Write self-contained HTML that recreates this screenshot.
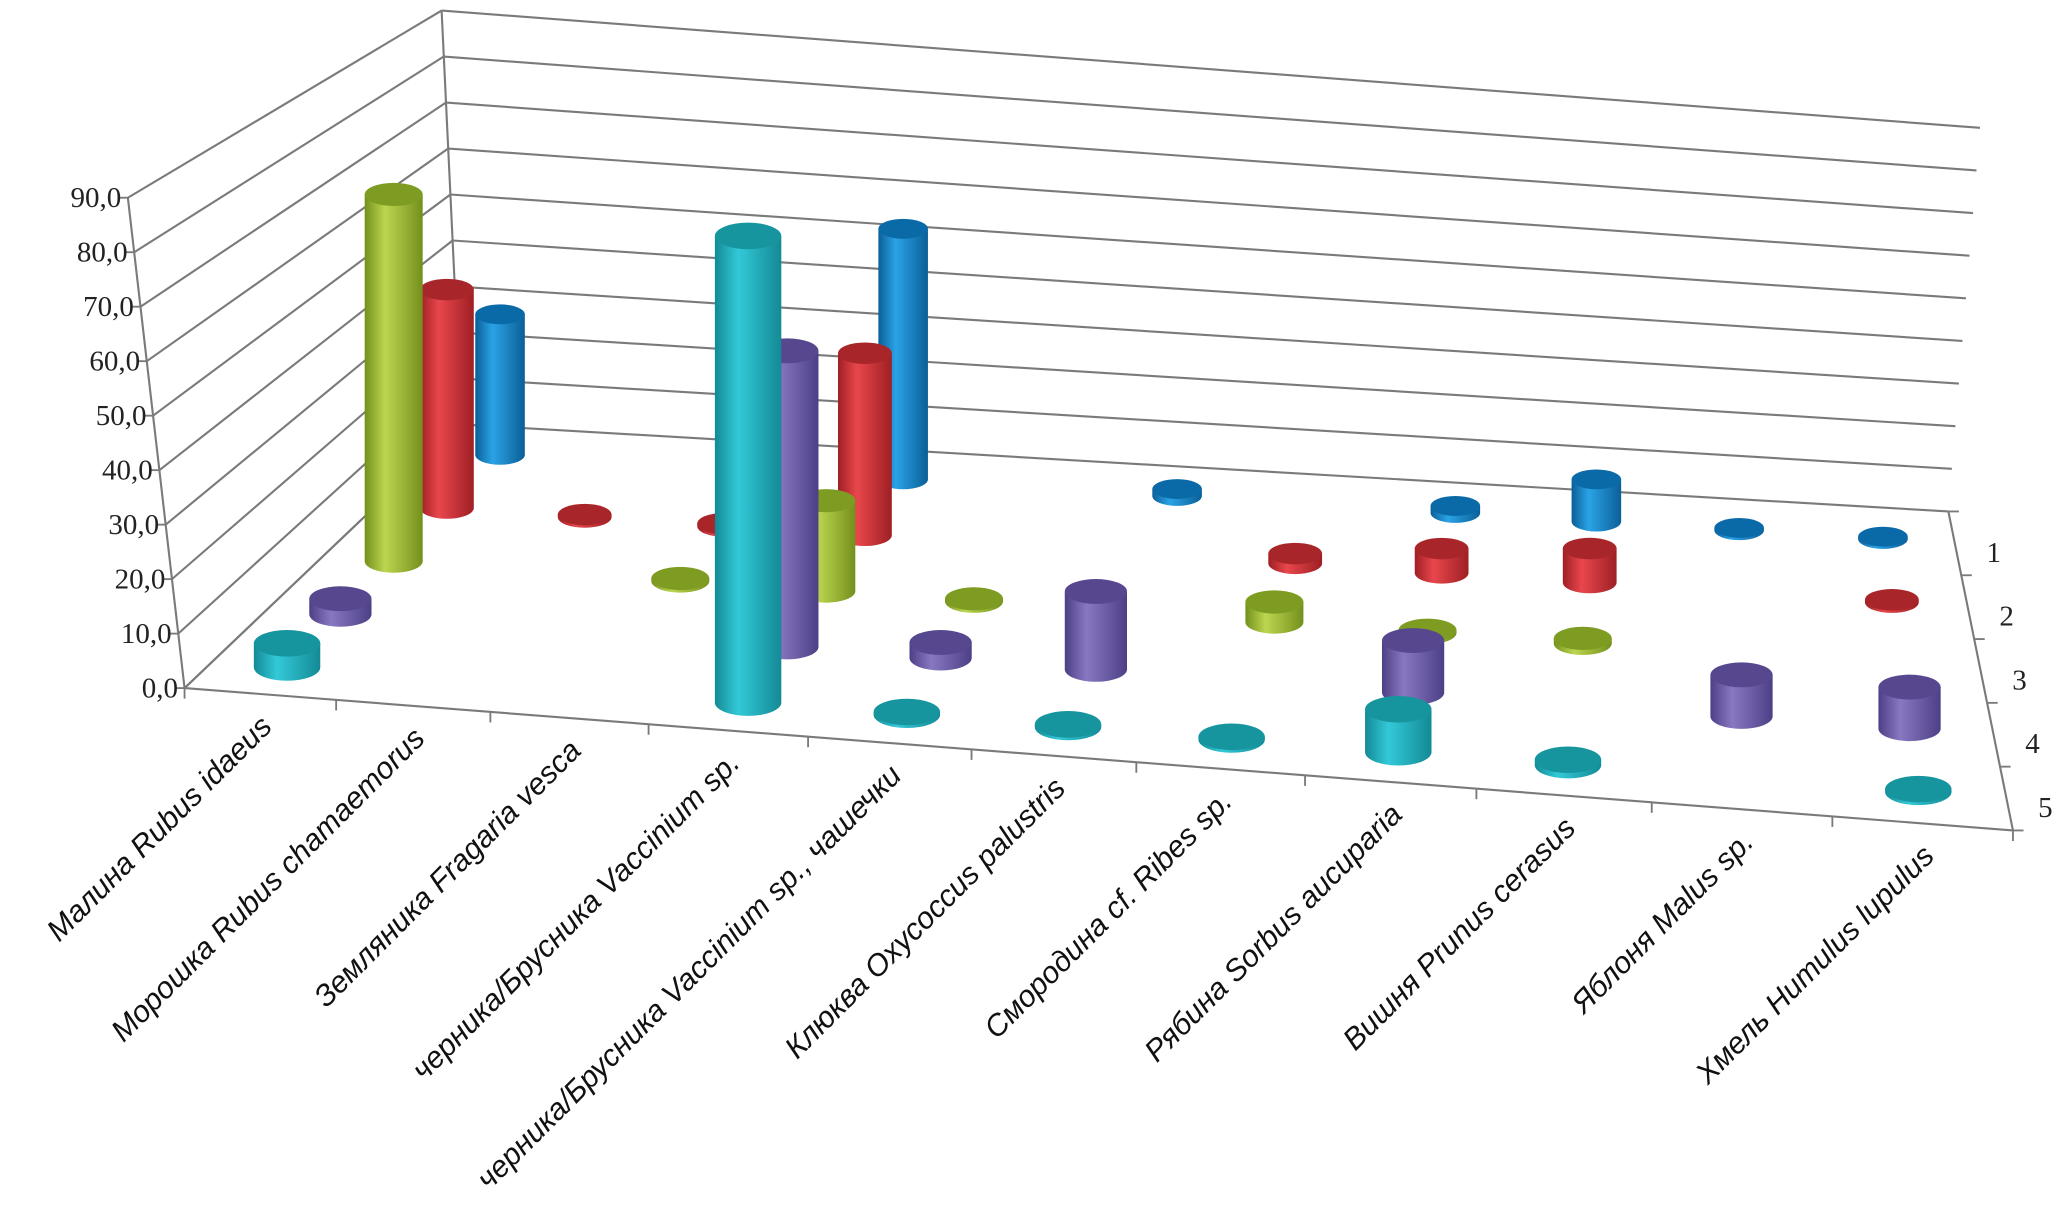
<!DOCTYPE html>
<html><head><meta charset="utf-8"><style>
html,body{margin:0;padding:0;background:#fff;}
svg{display:block;}
</style></head><body>
<svg id="chart" width="2067" height="1218" viewBox="0 0 1568 924" preserveAspectRatio="none" xmlns="http://www.w3.org/2000/svg">
<defs></defs>
<g id="walls"></g>
<g id="bars"></g>
<g id="labels"></g>
</svg>
<script>
const categories = ["Малина Rubus idaeus","Морошка Rubus chamaemorus","Земляника Fragaria vesca","черника/Брусника Vaccinium sp.","черника/Брусника Vaccinium sp., чашечки","Клюква Oxycoccus palustris","Смородина cf. Ribes sp.","Рябина Sorbus aucuparia","Вишня Prunus cerasus","Яблоня Malus sp.","Хмель Humulus lupulus"];
const seriesNames = ["1","2","3","4","5"];
const series1 = [30, 0, 0, 53.5, 0, 1.5, 0, 1.5, 9, 0.5, 0.5];
const series2 = [45, 0.5, 0.5, 37.5, 0, 0, 2, 5, 7, 0, 0.5];
const series3 = [73, 0, 0.5, 18, 0.5, 0, 4, 0.5, 1, 0, 0];
const series4 = [3, 0, 0, 57, 3, 15, 0, 10, 0, 8, 8];
const series5 = [4.5, 0, 0, 87, 0.5, 0.5, 0.5, 8, 1, 0, 0.5];
const yTicks = ["0,0","10,0","20,0","30,0","40,0","50,0","60,0","70,0","80,0","90,0"];
const allSeries = [series1, series2, series3, series4, series5];
const colors = [["#0b5f97","#2aa3e6","#0a6aa8"],["#9e1f24","#e8474c","#a8252a"],["#74901c","#bcd650","#7f9c22"],["#4d3f86","#8878c2","#56478f"],["#138a95","#33c9d8","#17959f"]];
const NS = "http://www.w3.org/2000/svg";
const svg = document.getElementById('chart');
const defs = svg.querySelector('defs');
const walls = document.getElementById('walls');
const barsG = document.getElementById('bars');
const labelsG = document.getElementById('labels');
function mk(tag, attrs, parent){const e=document.createElementNS(NS,tag);for(const k in attrs)e.setAttribute(k,attrs[k]);parent.appendChild(e);return e;}
const BL=[350,322], BR=[1478,388], FL=[140,522], FR=[1527,630];
const backTopL=[335,8], backTopR=[1502,97];
const frontTop=[97,150];
const YMAX=90;
const warpPx=[140,255,372,492,613,737,862,990,1120,1253,1390,1527];
function warp(u,v){
  const n=warpPx.length-1, s=u*n, k=Math.min(n-1,Math.floor(s)), f=s-k;
  const px=warpPx[k]+(warpPx[k+1]-warpPx[k])*f;
  const wf=(px-140)/1387;
  const m=0.4+0.6*v;
  return u+(wf-u)*m;
}
function floorPt(u,v){
  u=warp(u,v);
  const bx=BL[0]+(BR[0]-BL[0])*u, by=BL[1]+(BR[1]-BL[1])*u;
  const fx=FL[0]+(FR[0]-FL[0])*u, fy=FL[1]+(FR[1]-FL[1])*u;
  return [bx+(fx-bx)*v, by+(fy-by)*v];
}
function yScale(v){
  const back=(BL[1]-backTopL[1])/YMAX, front=(FL[1]-frontTop[1])/YMAX;
  return back+(front-back)*v;
}
colors.forEach((c,i)=>{
  const g=mk('linearGradient',{id:'g'+i,x1:'0',x2:'1',y1:'0',y2:'0'},defs);
  mk('stop',{offset:'0','stop-color':c[0]},g);
  mk('stop',{offset:'0.35','stop-color':c[1]},g);
  mk('stop',{offset:'1','stop-color':c[0]},g);
});
const floor=mk('polygon',{points:[BL,BR,FR,FL].map(p=>p.join(',')).join(' '),fill:'#fff',stroke:'none'},walls);


for(let k=0;k<yTicks.length;k++){
  const t=k/(yTicks.length-1);
  const lx=BL[0]+(backTopL[0]-BL[0])*t, ly=BL[1]+(backTopL[1]-BL[1])*t;
  const rx=BR[0]+(backTopR[0]-BR[0])*t, ry=BR[1]+(backTopR[1]-BR[1])*t;
  const fx=FL[0]+(frontTop[0]-FL[0])*t, fy=FL[1]+(frontTop[1]-FL[1])*t;
  const l1=mk('line',{x1:lx,y1:ly,x2:rx,y2:ry,stroke:'#7a7a7a','stroke-width':1.6},walls);
  
  
  const l2=mk('line',{x1:fx,y1:fy,x2:lx,y2:ly,stroke:'#7a7a7a','stroke-width':1.6},walls);
  
  
  mk('line',{x1:fx-6,y1:fy,x2:fx,y2:fy,stroke:'#7a7a7a','stroke-width':1.4},walls);
  const tx=mk('text',{x:fx-5,y:fy+7,'text-anchor':'end','font-family':'"Liberation Serif",serif','font-size':22,fill:'#222'},labelsG);
  tx.textContent=yTicks[k];
  
  
}
[[FL,frontTop],[BL,backTopL],[FL,FR],[BR,FR],[FL,BL]].forEach(s=>{
  const l=mk('line',{x1:s[0][0],y1:s[0][1],x2:s[1][0],y2:s[1][1],stroke:'#7a7a7a','stroke-width':1.6},walls);
  
  
});
const N=categories.length;
for(let i=0;i<=N;i++){
  const p=floorPt(i/N,1);
  mk('line',{x1:p[0],y1:p[1],x2:p[0],y2:p[1]+8,stroke:'#7a7a7a','stroke-width':1.4},walls);
}
categories.forEach((c,i)=>{
  const p=floorPt((i+0.5)/N,1);
  const x=p[0]+10, y=p[1]+26;
  const t=mk('text',{x:x,y:y,'text-anchor':'end','font-family':'"Liberation Sans",sans-serif','font-style':'italic','font-size':23,fill:'#111',transform:`rotate(-45 ${x} ${y})`},labelsG);
  t.textContent=c;
  
  
});
const R=seriesNames.length;
for(let j=0;j<=R;j++){
  const p=floorPt(1,j/R);
  mk('line',{x1:p[0],y1:p[1],x2:p[0]+8,y2:p[1],stroke:'#7a7a7a','stroke-width':1.4},walls);
}
seriesNames.forEach((s,j)=>{
  const p=floorPt(1,(j+0.5)/R);
  const t=mk('text',{x:p[0]+24,y:p[1]+14,'text-anchor':'start','font-family':'"Liberation Serif",serif','font-size':22,fill:'#222'},labelsG);
  t.textContent=s;
  
  
});
allSeries.forEach((vals,j)=>{
  const v=(j+0.5)/R;
  vals.forEach((val,i)=>{
    if(val<=0) return;
    const base=floorPt((i+0.5)/N,v);
    const w=36+v*16, rx=w/2, ry=w*0.2;
    const h=val*yScale(v);
    const top=base[1]-h;
    const g=mk('g',{},barsG);
    
    
    const c=colors[j];
    mk('path',{d:`M${base[0]-rx},${top} L${base[0]-rx},${base[1]} A${rx},${ry} 0 0 0 ${base[0]+rx},${base[1]} L${base[0]+rx},${top} Z`,fill:`url(#g${j})`},g);
    mk('ellipse',{cx:base[0],cy:top,rx:rx,ry:ry,fill:c[2]},g);
  });
});
</script>
</body></html>
